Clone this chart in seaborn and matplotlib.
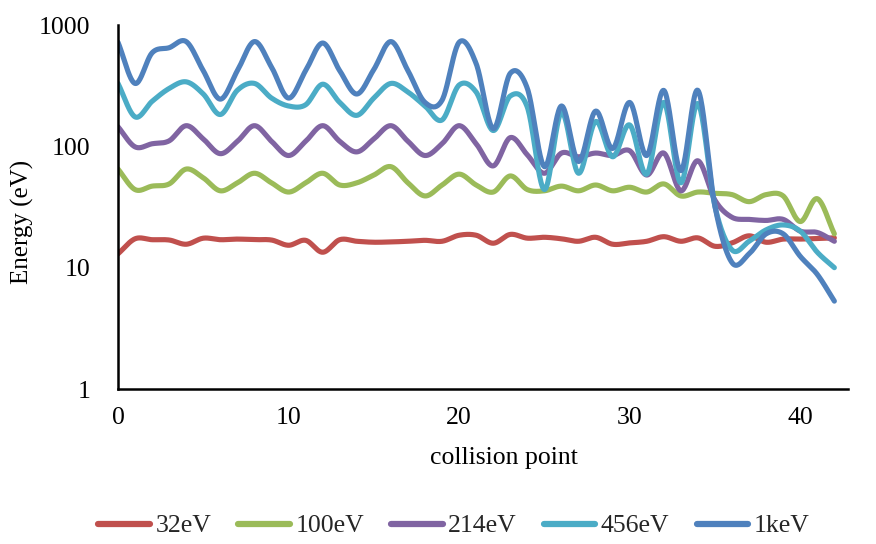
import numpy as np
import pandas as pd
import matplotlib
matplotlib.use("Agg")
import matplotlib.pyplot as plt
from matplotlib.ticker import LogLocator, NullFormatter, FixedLocator
import seaborn as sns

# ---------------- data ----------------
collision = list(range(43))

e32 = [13.0, 17.3, 17.0, 16.9, 15.6, 17.5, 17.0, 17.2, 17.0, 16.9,
       15.3, 16.8, 13.4, 17.0, 16.5, 16.2, 16.3, 16.5, 16.8, 16.5,
       18.5, 18.5, 15.9, 18.8, 17.5, 17.8, 17.3, 16.5, 17.8, 15.6,
       16.0, 16.5, 18.0, 16.5, 17.6, 15.0, 16.0, 18.3, 16.2, 17.2,
       17.2, 17.4, 17.6]

e100 = [65, 44, 47, 49, 65, 55, 43, 50, 60, 50,
        42, 50, 60, 48, 50, 58, 68, 50, 39, 48,
        59, 48, 42, 57, 44, 43, 47, 43, 48, 43,
        46, 42, 49, 39, 42, 41, 40, 35, 40, 39,
        24, 37, 19]

e214 = [145, 99, 105, 111, 148, 115, 87, 110, 148, 110,
        84, 110, 148, 110, 90, 115, 148, 110, 84, 105,
        148, 105, 69, 118, 85, 60, 88, 82, 88, 84,
        92, 58, 88, 43, 76, 36, 26, 25, 24.5, 25,
        20, 19.5, 16.5]

e456 = [330, 175, 235, 300, 340, 270, 183, 290, 330, 250,
        215, 220, 325, 230, 180, 250, 330, 280, 215, 165,
        320, 280, 135, 260, 210, 44, 190, 60, 160, 82,
        150, 59, 230, 50, 225, 32, 14, 16.5, 20.5, 22.5,
        20, 13.4, 10]

e1k = [720, 330, 590, 650, 730, 420, 245, 420, 730, 450,
       250, 420, 710, 420, 270, 430, 730, 420, 230, 240,
       720, 480, 140, 400, 300, 68, 215, 75, 195, 96,
       230, 84, 289, 63, 289, 32, 11, 13, 19, 19,
       12.4, 8.8, 5.3]

series_names = ["32eV", "100eV", "214eV", "456eV", "1keV"]
series_values = [e32, e100, e214, e456, e1k]
colors = ["#C0504D", "#9BBB59", "#8064A2", "#4BACC6", "#4F81BD"]

xtick_vals = [0, 10, 20, 30, 40]
ytick_vals = [1, 10, 100, 1000]
ytick_labels = ["1", "10", "100", "1000"]


def smooth_curve(x, y, n=24):
    """Catmull-Rom smoothing in (x, log10 y) space, like a spreadsheet smoothed line."""
    x = np.asarray(x, float)
    ly = np.log10(np.asarray(y, float))
    px = np.concatenate([[2 * x[0] - x[1]], x, [2 * x[-1] - x[-2]]])
    py = np.concatenate([[2 * ly[0] - ly[1]], ly, [2 * ly[-1] - ly[-2]]])
    xs, ys = [], []
    t = np.linspace(0, 1, n, endpoint=False)
    for i in range(1, len(px) - 2):
        p0x, p1x, p2x, p3x = px[i - 1], px[i], px[i + 1], px[i + 2]
        p0y, p1y, p2y, p3y = py[i - 1], py[i], py[i + 1], py[i + 2]
        c1x, c1y = p1x + (p2x - p0x) / 6, p1y + (p2y - p0y) / 6
        c2x, c2y = p2x - (p3x - p1x) / 6, p2y - (p3y - p1y) / 6
        bx = (1 - t) ** 3 * p1x + 3 * (1 - t) ** 2 * t * c1x + 3 * (1 - t) * t ** 2 * c2x + t ** 3 * p2x
        by = (1 - t) ** 3 * p1y + 3 * (1 - t) ** 2 * t * c1y + 3 * (1 - t) * t ** 2 * c2y + t ** 3 * p2y
        xs.append(bx)
        ys.append(by)
    xs.append([x[-1]])
    ys.append([ly[-1]])
    return np.concatenate(xs), 10 ** np.concatenate(ys)


sns.set_theme(style="white")
plt.rcParams["font.family"] = ["Liberation Serif", "DejaVu Serif"]

fig = plt.figure(figsize=(8.76, 5.44), dpi=100)
L, R, T, B = 118 / 876, 848 / 876, 1 - 25 / 544, 1 - 389 / 544
ax = fig.add_axes([L, B, R - L, T - B])

frames = []
for name, vals in zip(series_names, series_values):
    sx, sy = smooth_curve(collision, vals)
    frames.append(pd.DataFrame({"collision point": sx, "Energy": sy, "series": name}))
df = pd.concat(frames, ignore_index=True)

sns.lineplot(data=df, x="collision point", y="Energy", hue="series",
             hue_order=series_names, palette=colors, sort=False,
             estimator=None, linewidth=3.7, ax=ax)

ax.set_yscale("log")
ax.set_ylim(1, 1000)
ax.set_xlim(0, 42.8)
ax.set_xticks(xtick_vals)
ax.set_xticklabels([str(v) for v in xtick_vals])
ax.yaxis.set_major_locator(FixedLocator(ytick_vals))
ax.set_yticklabels(ytick_labels)
ax.yaxis.set_minor_locator(LogLocator(base=10, subs=np.arange(2, 10)))
ax.yaxis.set_minor_formatter(NullFormatter())

for s in ["top", "right"]:
    ax.spines[s].set_visible(False)
for s in ["left", "bottom"]:
    ax.spines[s].set_color("black")
    ax.spines[s].set_linewidth(1.8)

ax.tick_params(axis="both", which="both", direction="out", color="black",
               width=1.5, length=6, labelsize=18.5, labelcolor="black")
ax.tick_params(axis="y", which="major", pad=14)
ax.tick_params(axis="x", which="major", pad=7)
ax.tick_params(axis="x", which="minor", length=0)

ax.set_xlabel("collision point", fontsize=18.5, color="black")
ax.set_ylabel("Energy (eV)", fontsize=18, color="black")
ax.xaxis.set_label_coords((504 - 118) / 730, (389 - 447) / 364)
ax.yaxis.set_label_coords((34 - 118) / 730, (389 - 222) / 364)

handles, labels = ax.get_legend_handles_labels()
ax.get_legend().remove()
for h in handles:
    h.set_linewidth(4.5)
fig.legend(handles, labels, loc="center", bbox_to_anchor=(454 / 876, 1 - 526 / 544),
           ncol=5, frameon=False, fontsize=18.5, handlelength=2.0,
           handletextpad=0.22, columnspacing=1.05)

fig.savefig("out.png", dpi=100)
